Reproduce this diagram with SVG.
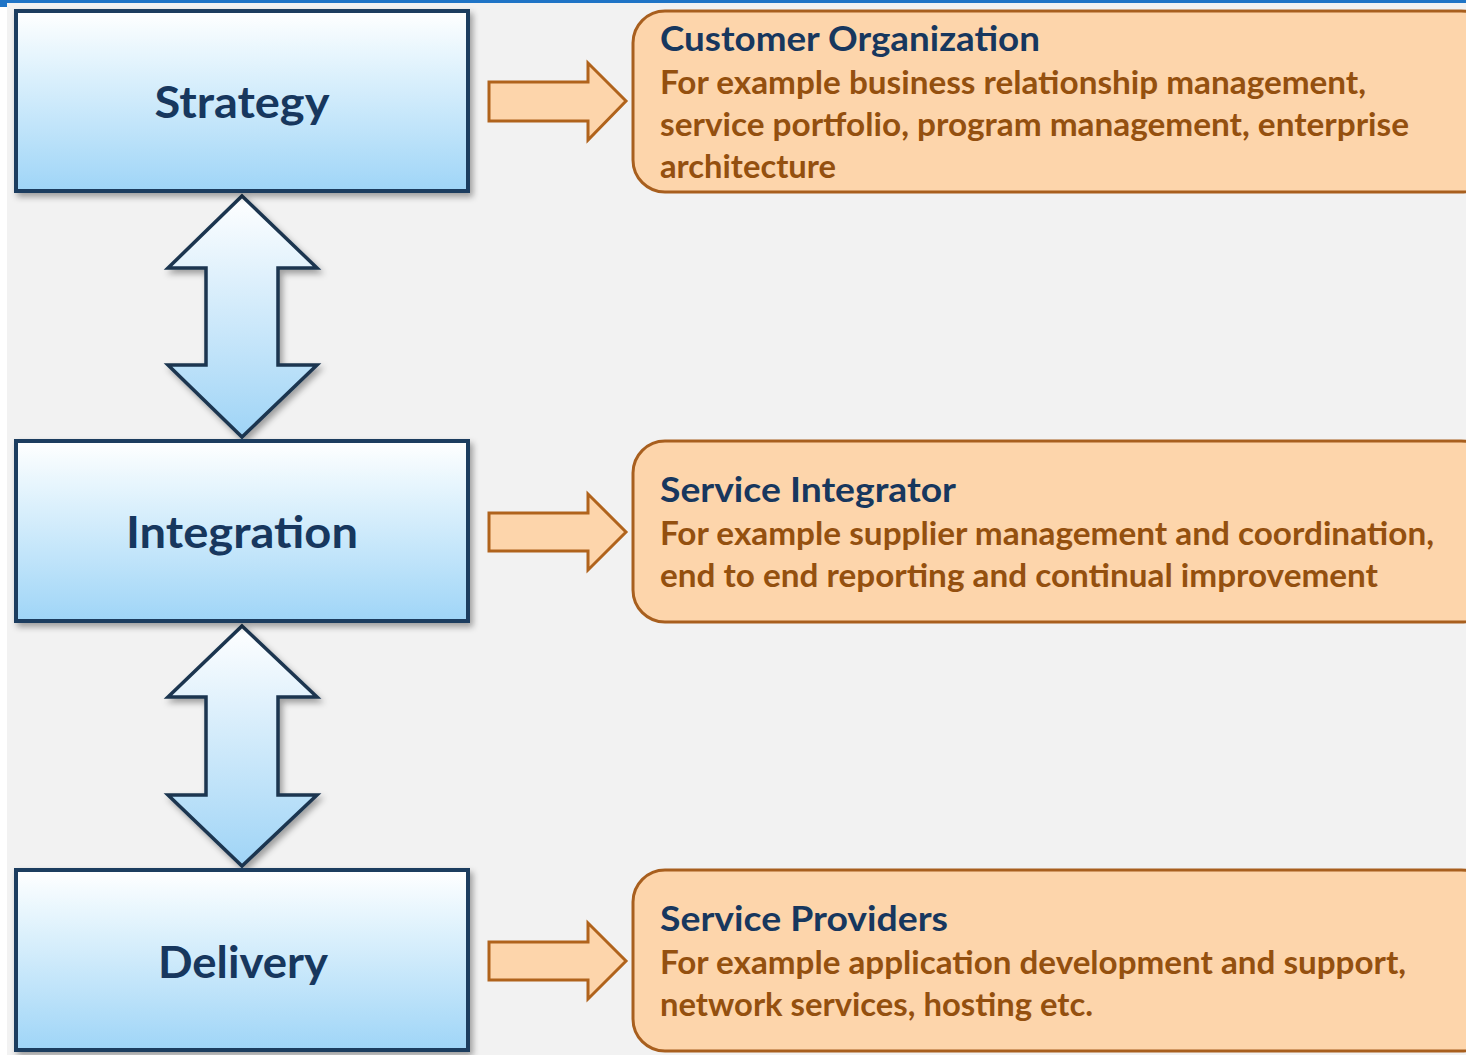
<svg xmlns="http://www.w3.org/2000/svg" width="1466" height="1055" viewBox="0 0 1466 1055">
<defs>
<linearGradient id="blueGrad" x1="0" y1="0" x2="0" y2="1">
<stop offset="0" stop-color="#ffffff"/>
<stop offset="0.25" stop-color="#e6f5fd"/>
<stop offset="1" stop-color="#9fd5f7"/>
</linearGradient>
<linearGradient id="arrowGrad" x1="0" y1="0" x2="0" y2="1">
<stop offset="0" stop-color="#ffffff"/>
<stop offset="1" stop-color="#9fd4f6"/>
</linearGradient>
<filter id="shadow" x="-10%" y="-10%" width="120%" height="125%">
<feDropShadow dx="3" dy="4" stdDeviation="3" flood-color="#000000" flood-opacity="0.35"/>
</filter>
<style>
.bluebox{fill:url(#blueGrad);stroke:#1f3e5e;stroke-width:4;filter:url(#shadow)}
.dbl{fill:url(#arrowGrad);stroke:#1a3550;stroke-width:3.5;stroke-linejoin:miter;filter:url(#shadow)}
.orarrow{fill:#fdd5ab;stroke:#b0631c;stroke-width:3}
.orbox{fill:#fdd5ab;stroke:#a85f1e;stroke-width:3}
.lbl{font-family:Lato,"Open Sans","Liberation Sans",sans-serif;font-weight:bold;font-size:44px;fill:#17375e;text-anchor:middle}
.ttl{font-family:Lato,"Open Sans","Liberation Sans",sans-serif;font-weight:bold;font-size:35px;fill:#17375e}
.body{font-family:Lato,"Open Sans","Liberation Sans",sans-serif;font-weight:bold;font-size:32px;fill:#94500f}
</style>
</defs>
<rect x="0" y="0" width="1466" height="1055" fill="#ffffff"/>
<rect x="7" y="3" width="1459" height="1052" fill="#f2f2f2"/>
<rect x="0" y="0" width="1466" height="3" fill="#1f74c6"/>
<rect x="0" y="0" width="7" height="7" fill="#1f74c6"/>

<g id="connectors">
<path class="dbl" d="M242,196 L317,268 L278,268 L278,365 L317,365 L242,437 L168,365 L206,365 L206,268 L168,268 Z"/>
<path class="dbl" d="M242,626 L317,697 L278,697 L278,795 L317,795 L242,866 L168,795 L206,795 L206,697 L168,697 Z"/>
<path class="orarrow" d="M489,82 L588,82 L588,63 L626,101 L588,140 L588,121 L489,121 Z"/>
<path class="orarrow" d="M489,513 L588,513 L588,494 L626,532 L588,570 L588,551 L489,551 Z"/>
<path class="orarrow" d="M489,942 L588,942 L588,923 L626,961 L588,999 L588,980 L489,980 Z"/>
</g>

<g id="strategy">
<rect class="bluebox" x="16" y="11" width="452" height="180"/>
<text class="lbl" x="242" y="118" textLength="175" lengthAdjust="spacingAndGlyphs">Strategy</text>
</g>
<g id="integration">
<rect class="bluebox" x="16" y="441" width="452" height="180"/>
<text class="lbl" x="242" y="548" textLength="232" lengthAdjust="spacingAndGlyphs">Integration</text>
</g>
<g id="delivery">
<rect class="bluebox" x="16" y="870" width="452" height="180"/>
<text class="lbl" x="243" y="978" textLength="170" lengthAdjust="spacingAndGlyphs">Delivery</text>
</g>

<g id="customer-organization">
<rect class="orbox" x="633" y="11" width="860" height="181" rx="32"/>
<text class="ttl" x="660" y="51" textLength="380" lengthAdjust="spacingAndGlyphs">Customer Organization</text>
<text class="body" x="660" y="94" textLength="706" lengthAdjust="spacingAndGlyphs">For example business relationship management,</text>
<text class="body" x="660" y="136" textLength="749" lengthAdjust="spacingAndGlyphs">service portfolio, program management, enterprise</text>
<text class="body" x="660" y="178" textLength="176" lengthAdjust="spacingAndGlyphs">architecture</text>
</g>
<g id="service-integrator">
<rect class="orbox" x="633" y="441" width="860" height="181" rx="32"/>
<text class="ttl" x="660" y="502" textLength="296" lengthAdjust="spacingAndGlyphs">Service Integrator</text>
<text class="body" x="660" y="545" textLength="774" lengthAdjust="spacingAndGlyphs">For example supplier management and coordination,</text>
<text class="body" x="660" y="587" textLength="718" lengthAdjust="spacingAndGlyphs">end to end reporting and continual improvement</text>
</g>
<g id="service-providers">
<rect class="orbox" x="633" y="870" width="860" height="181" rx="32"/>
<text class="ttl" x="660" y="931" textLength="288" lengthAdjust="spacingAndGlyphs">Service Providers</text>
<text class="body" x="660" y="974" textLength="746" lengthAdjust="spacingAndGlyphs">For example application development and support,</text>
<text class="body" x="660" y="1016" textLength="433" lengthAdjust="spacingAndGlyphs">network services, hosting etc.</text>
</g>
</svg>
